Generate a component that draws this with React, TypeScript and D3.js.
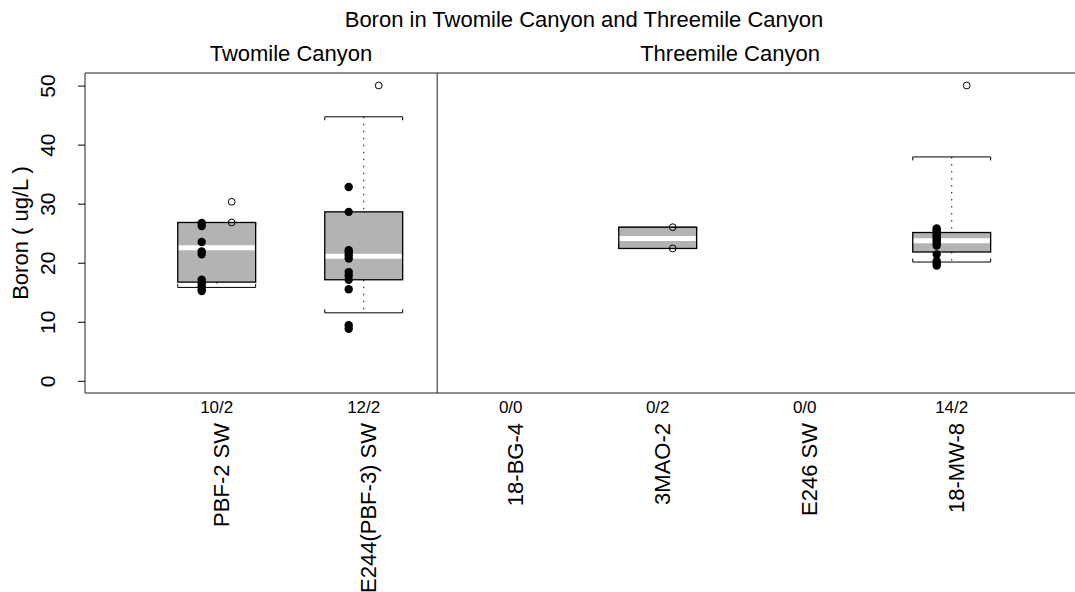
import React from 'react';
import * as d3 from 'd3';

// sites, in plotting order (positions 1..6)
const sites = ['PBF-2 SW', 'E244(PBF-3) SW', '18-BG-4', '3MAO-2', 'E246 SW', '18-MW-8'];
const counts = ['10/2', '12/2', '0/0', '0/2', '0/0', '14/2'];

// box stats: [lowWhisker, q1, median, q3, highWhisker] (null = no box)
const boxStats: (number[] | null)[] = [
  [15.9, 16.8, 22.6, 26.9, 26.9],
  [11.6, 17.2, 21.2, 28.7, 44.8],
  null,
  [22.5, 22.5, 24.2, 26.1, 26.1],
  null,
  [20.2, 21.9, 23.8, 25.2, 38.0],
];

// detected values (filled dots)
const detects: number[][] = [
  [26.8, 26.3, 23.6, 22.0, 21.5, 17.2, 16.6, 16.1, 15.6, 15.3],
  [32.9, 28.7, 22.2, 21.8, 21.3, 20.8, 18.5, 17.9, 17.2, 15.6, 9.5, 8.9],
  [],
  [],
  [],
  [25.9, 25.6, 25.3, 25.0, 24.7, 24.4, 24.1, 23.8, 23.4, 23.0, 21.5, 20.4, 20.0, 19.6],
];

// non-detects (open circles)
const nondetects: number[][] = [
  [30.4, 26.9],
  [50.1],
  [],
  [26.1, 22.5],
  [],
  [50.1],
];

const yTicks = [0, 10, 20, 30, 40, 50];

const W = 1075;
const H = 592;
const left = 85;
const top = 73;
const bottom = 393;
const font = 'Liberation Sans, Arial, Helvetica, sans-serif';

export default function App() {
  const x = d3.scaleLinear().domain([1, 6]).range([216.7, 951.7]);
  const y = d3.scaleLinear().domain([0, 50]).range([381.3, 86.1]);
  const halfW = x(1.265) - x(1);
  const ptOff = x(1.102) - x(1);
  const divider = x(2.5);

  return (
    <svg width={W} height={H} style={{ position: 'absolute', left: 0, top: 0, background: '#fff' }} fontFamily={font}>
      <text x={584} y={27} textAnchor="middle" fontSize={22}>Boron in Twomile Canyon and Threemile Canyon</text>
      <text x={291} y={60.5} textAnchor="middle" fontSize={22}>Twomile Canyon</text>
      <text x={730} y={60.5} textAnchor="middle" fontSize={22}>Threemile Canyon</text>

      {/* frame */}
      <line x1={left} x2={W} y1={top} y2={top} stroke="#222" />
      <line x1={left} x2={W} y1={bottom} y2={bottom} stroke="#222" />
      <line x1={left} x2={left} y1={top} y2={bottom} stroke="#222" />
      <line x1={divider} x2={divider} y1={top} y2={bottom} stroke="#222" />

      {/* y axis */}
      {yTicks.map((t) => (
        <g key={t}>
          <line x1={left - 7} x2={left} y1={y(t)} y2={y(t)} stroke="#000" />
          <text transform={`translate(${55},${y(t)}) rotate(-90)`} textAnchor="middle" fontSize={21}>{t}</text>
        </g>
      ))}
      <text transform={`translate(${27.5},${(top + bottom) / 2}) rotate(-90)`} textAnchor="middle" fontSize={22}>Boron ( ug/L )</text>

      {/* x labels */}
      {sites.map((s, i) => (
        <g key={s}>
          <text x={x(i + 1)} y={413} textAnchor="middle" fontSize={17}>{counts[i]}</text>
          <text transform={`translate(${x(i + 1) + 12},${423}) rotate(-90)`} textAnchor="end" fontSize={22}>{s}</text>
        </g>
      ))}

      {/* boxes */}
      {boxStats.map((b, i) => {
        if (!b) return null;
        const cx = x(i + 1);
        const [lo, q1, med, q3, hi] = b;
        return (
          <g key={i}>
            <line x1={cx} x2={cx} y1={y(hi)} y2={y(q3)} stroke="#333" strokeWidth={1.2} strokeDasharray="1.5 5.5" />
            <line x1={cx} x2={cx} y1={y(q1)} y2={y(lo)} stroke="#333" strokeWidth={1.2} strokeDasharray="1.5 5.5" />
            <path d={`M${cx - halfW},${y(hi) + 3.5}V${y(hi)}H${cx + halfW}V${y(hi) + 3.5}`} fill="none" stroke="#000" />
            <path d={`M${cx - halfW},${y(lo) - 3.5}V${y(lo)}H${cx + halfW}V${y(lo) - 3.5}`} fill="none" stroke="#000" />
            <rect x={cx - halfW} y={y(q3)} width={halfW * 2} height={y(q1) - y(q3)} fill="#b3b3b3" stroke="#000" strokeWidth={1.3} />
            <line x1={cx - halfW + 1} x2={cx + halfW - 1} y1={y(med)} y2={y(med)} stroke="#fff" strokeWidth={5} />
          </g>
        );
      })}

      {/* points */}
      {detects.map((vals, i) =>
        vals.map((v, j) => <circle key={`d${i}-${j}`} cx={x(i + 1) - ptOff} cy={y(v)} r={4.2} fill="#000" />)
      )}
      {nondetects.map((vals, i) =>
        vals.map((v, j) => <circle key={`n${i}-${j}`} cx={x(i + 1) + ptOff} cy={y(v)} r={3.4} fill="none" stroke="#000" />)
      )}
    </svg>
  );
}
